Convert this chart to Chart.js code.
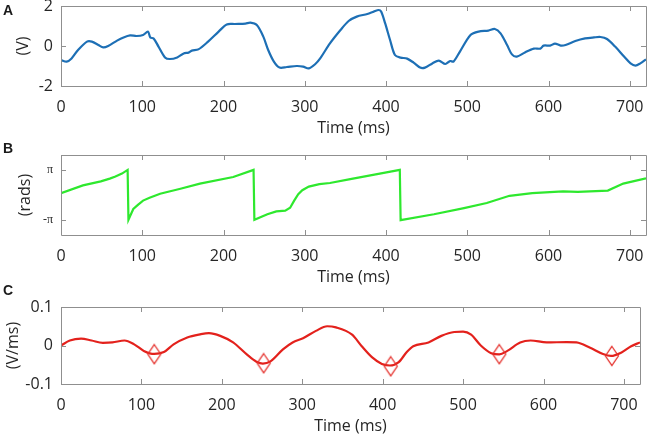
<!DOCTYPE html>
<html>
<head>
<meta charset="utf-8">
<script src="https://cdn.jsdelivr.net/npm/chart.js@4.4.1/dist/chart.umd.min.js"></script>
<style>
	html, body { margin: 0; padding: 0; background: #fff; overflow: hidden; }
	div.figure { position: relative; width: 649px; height: 437px; }
	div.figure > canvas { position: absolute; left: 0; }
	div.figure > div.letter { position: absolute; left: 3px; font: bold 14px/14px "Liberation Sans", Arial, sans-serif; color: #1a1a1a; }
</style>
</head>
<body>
<div class="figure">
	<canvas id="panel_a" width="649" height="140" style="top:0px"></canvas>
	<canvas id="panel_b" width="649" height="140" style="top:149px"></canvas>
	<canvas id="panel_c" width="649" height="140" style="top:298px"></canvas>
	<div class="letter" style="top:3px">A</div>
	<div class="letter" style="top:141px">B</div>
	<div class="letter" style="top:283px">C</div>
</div>
<script>
// panel A - signal (V)
const timeA = [0, 7, 13, 21, 32, 38, 46, 52, 58, 69,
	77, 85, 93, 101, 107, 110, 114, 120, 128, 134,
	143, 151, 157, 161, 169, 181, 194, 204, 214, 227,
	233, 241, 249, 255, 262, 269, 278, 290, 298, 305,
	313, 319, 331, 344, 354, 364, 377, 385, 391, 394,
	399, 405, 411, 418, 426, 434, 442, 448, 457, 465,
	473, 479, 483, 491, 504, 514, 526, 534, 541, 549,
	555, 561, 571, 582, 590, 594, 602, 608, 615, 621,
	633, 645, 656, 664, 672, 682, 693, 701, 707, 713,
	720];
const voltageA = [-0.7, -0.78, -0.62, -0.2, 0.22, 0.22, 0.05, -0.07, 0, 0.27,
	0.43, 0.53, 0.5, 0.55, 0.72, 0.42, 0.38, -0.03, -0.57, -0.65,
	-0.57, -0.37, -0.33, -0.23, -0.17, 0.22, 0.72, 1.08, 1.1, 1.12,
	1.17, 1.05, 0.47, -0.2, -0.78, -1.08, -1.05, -1.0, -1.03, -1.12,
	-0.9, -0.62, 0.13, 0.8, 1.25, 1.47, 1.6, 1.72, 1.8, 1.72,
	1.13, 0.3, -0.45, -0.58, -0.63, -0.83, -1.08, -1.08, -0.87, -0.73,
	-0.9, -0.75, -0.78, -0.28, 0.55, 0.72, 0.77, 0.85, 0.63, 0.05,
	-0.42, -0.53, -0.32, -0.13, -0.13, 0.02, 0.02, 0.12, 0.02, 0.05,
	0.25, 0.38, 0.43, 0.45, 0.35, -0.03, -0.53, -0.87, -0.98, -0.87,
	-0.67];

// panel B - phase (rads)
const timeB = [0, 27, 49, 60, 67, 75, 82, 83, 89, 95,
	101, 109, 122, 147, 171, 212, 237, 238, 254, 265,
	276, 282, 287, 292, 297, 305, 318, 331, 356, 394,
	417, 418, 459, 496, 524, 552, 580, 618, 636, 673,
	692, 720];
const phaseB = [0.23, 1.2, 1.7, 2.05, 2.3, 2.68, 3.14, -3.1, -1.75, -1.2,
	-0.7, -0.35, 0.15, 0.78, 1.42, 2.25, 3.14, -3.1, -2.41, -2.05,
	-1.95, -1.6, -0.7, 0.1, 0.6, 1.05, 1.35, 1.5, 1.98, 2.71,
	3.14, -3.14, -2.41, -1.64, -1.0, -0.1, 0.23, 0.45, 0.4, 0.55,
	1.43, 2.07];

// panel C - derivative (V/ms)
const timeC = [0, 11, 25, 38, 52, 64, 79, 91, 103, 116,
	128, 140, 157, 173, 184, 198, 214, 231, 243, 251,
	260, 276, 288, 301, 317, 331, 342, 362, 374, 387,
	399, 409, 420, 430, 438, 457, 473, 489, 500, 510,
	522, 535, 545, 555, 571, 584, 604, 629, 641, 658,
	674, 684, 697, 709, 720];
const slopeC = [0, 0.013, 0.018, 0.013, 0.007, 0.008, 0.013, 0.003, -0.014, -0.022,
	-0.017, 0.003, 0.021, 0.029, 0.032, 0.025, 0.008, -0.023, -0.042, -0.047,
	-0.042, -0.01, 0.008, 0.019, 0.038, 0.05, 0.047, 0.028, -0.002, -0.031,
	-0.048, -0.052, -0.043, -0.017, -0.002, 0.008, 0.025, 0.035, 0.036, 0.028,
	0, -0.02, -0.023, -0.014, 0.008, 0.013, 0.008, 0.009, 0.008, -0.006,
	-0.022, -0.027, -0.018, -0.002, 0.008];
const markerTimes = [116, 252, 410, 545, 685];
const markerSlopes = [-0.0225, -0.046, -0.054, -0.0225, -0.027];

// ticks
const timeTicks = [0, 100, 200, 300, 400, 500, 600, 700];
const voltageTicks = [-2, 0, 2];
const phaseTicks = [-Math.PI, Math.PI];
const phaseTickLabels = ['-π', 'π'];
const slopeTicks = [-0.1, 0, 0.1];
const slopeTickLabels = ['-0.1', '0', '0.1'];

Chart.defaults.font.family = '"Open Sans", sans-serif';
Chart.defaults.font.size = 16;
Chart.defaults.color = '#262626';

const axisColor = '#8f8f8f';

function zip(xs, ys)
{
	let points = [];
	for(let i = 0; i < xs.length; i++)
	{
		points.push({x: xs[i], y: ys[i]});
	}
	return points;
}

// box round the plot, with ticks pointing inwards on all four sides
const boxPlugin = {
	id: 'box',
	afterDatasetsDraw: function(chart)
	{
		let ctx = chart.ctx;
		let area = chart.chartArea;
		let len = 5;
		ctx.save();
		ctx.strokeStyle = axisColor;
		ctx.lineWidth = 1;
		ctx.beginPath();
		ctx.rect(Math.round(area.left) + 0.5, Math.round(area.top) + 0.5, Math.round(area.right - area.left), Math.round(area.bottom - area.top));
		for(let tick of chart.scales.x.ticks)
		{
			let px = Math.round(chart.scales.x.getPixelForValue(tick.value)) + 0.5;
			ctx.moveTo(px, area.bottom);
			ctx.lineTo(px, area.bottom - len);
			ctx.moveTo(px, area.top);
			ctx.lineTo(px, area.top + len);
		}
		for(let tick of chart.scales.y.ticks)
		{
			let py = Math.round(chart.scales.y.getPixelForValue(tick.value)) + 0.5;
			ctx.moveTo(area.left, py);
			ctx.lineTo(area.left + len, py);
			ctx.moveTo(area.right, py);
			ctx.lineTo(area.right - len, py);
		}
		ctx.stroke();
		ctx.restore();
	}
};

function buildChart(canvas_id, datasets, y_options)
{
	let y_scale = {
		type: 'linear',
		min: y_options.min,
		max: y_options.max,
		afterBuildTicks: function(scale)
			{
				scale.ticks = y_options.ticks.map(function(v) { return {value: v}; });
			},
		afterFit: function(scale)
			{
				scale.width = 61;
				scale.paddingTop = 0;
				scale.paddingBottom = 0;
			},
		grid: {display: false, drawTicks: false},
		border: {display: false},
		ticks: {
			padding: 8,
			font: y_options.tick_font,
			callback: function(value, index)
				{
					return y_options.labels[index];
				}
		},
		title: {
			display: true,
			text: y_options.title,
			padding: {top: y_options.title_pad, bottom: 0},
			font: {size: 16, lineHeight: 1}
		}
	};
	let x_scale = {
		type: 'linear',
		min: 0,
		max: 720,
		afterBuildTicks: function(scale)
			{
				scale.ticks = timeTicks.map(function(v) { return {value: v}; });
			},
		afterFit: function(scale)
			{
				scale.height = 54;
				scale.paddingLeft = 0;
				scale.paddingRight = 0;
			},
		grid: {display: false, drawTicks: false},
		border: {display: false},
		ticks: {
			padding: 12,
			maxRotation: 0,
			autoSkip: false,
			callback: function(value)
				{
					return String(value);
				}
		},
		title: {
			display: true,
			text: 'Time (ms)',
			padding: {top: 0, bottom: 4},
			font: {size: 16, lineHeight: 1}
		}
	};
	return new Chart(document.getElementById(canvas_id), {
		type: 'line',
		data: {datasets: datasets},
		options: {
			responsive: false,
			animation: false,
			layout: {padding: {left: 0, right: 3, top: 6, bottom: 0}},
			plugins: {legend: {display: false}, tooltip: {enabled: false}},
			scales: {x: x_scale, y: y_scale}
		},
		plugins: [boxPlugin]
	});
}

buildChart('panel_a', [
	{
		data: zip(timeA, voltageA),
		borderColor: '#1d6fb5',
		borderWidth: 2.2,
		pointRadius: 0,
		tension: 0.3
	}], {
	min: -2, max: 2,
	ticks: voltageTicks,
	labels: voltageTicks.map(String),
	tick_font: {size: 16},
	title: '(V)',
	title_pad: 15
});

buildChart('panel_b', [
	{
		data: zip(timeB, phaseB),
		borderColor: '#2ee82e',
		borderWidth: 2.2,
		pointRadius: 0,
		tension: 0
	}], {
	min: -5, max: 5,
	ticks: phaseTicks,
	labels: phaseTickLabels,
	tick_font: {size: 12, family: '"Liberation Serif", serif'},
	title: '(rads)',
	title_pad: 17
});

// hollow diamond marker, taller than wide
let diamond_node = document.createElement('canvas');
diamond_node.width = 16;
diamond_node.height = 22;
let dctx = diamond_node.getContext('2d');
dctx.strokeStyle = '#e5312c';
dctx.lineWidth = 1.3;
dctx.beginPath();
dctx.moveTo(8, 1.5);
dctx.lineTo(14.5, 11);
dctx.lineTo(8, 20.5);
dctx.lineTo(1.5, 11);
dctx.closePath();
dctx.stroke();

buildChart('panel_c', [
	{
		data: zip(markerTimes, markerSlopes),
		showLine: false,
		pointStyle: diamond_node,
		pointRadius: 8,
		order: 0
	},
	{
		data: zip(timeC, slopeC),
		borderColor: '#e3211c',
		borderWidth: 2.2,
		pointRadius: 0,
		cubicInterpolationMode: 'monotone',
		order: 1
	}], {
	min: -0.1, max: 0.1,
	ticks: slopeTicks,
	labels: slopeTickLabels,
	tick_font: {size: 16},
	title: '(V/ms)',
	title_pad: 5
});
</script>
</body>
</html>
